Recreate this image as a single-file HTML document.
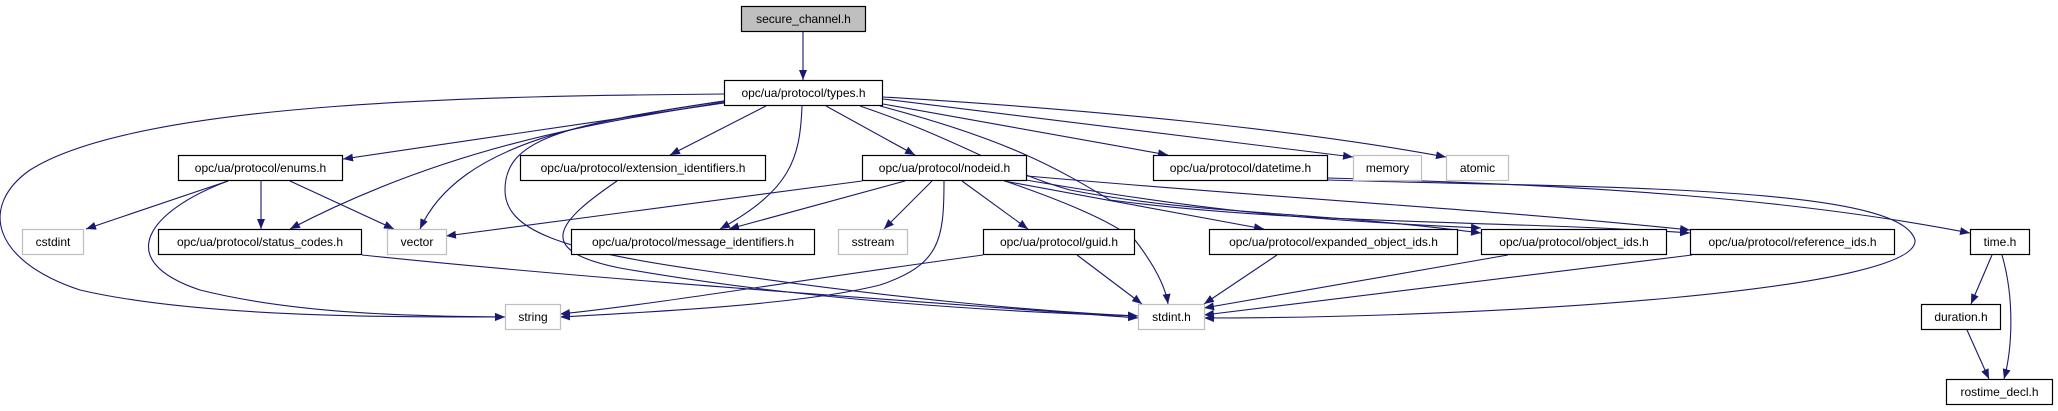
<!DOCTYPE html>
<html><head><meta charset="utf-8"><style>
html,body{margin:0;padding:0;background:#fff;width:2058px;height:411px;overflow:hidden}
svg text{font-family:"Liberation Sans",sans-serif;font-size:12px;fill:#000}
</style></head><body>
<svg width="2058" height="411" viewBox="0 0 2058 411" xmlns="http://www.w3.org/2000/svg">
<defs>
<marker id="a" viewBox="0 0 10 8" refX="10" refY="4" markerWidth="10" markerHeight="8" markerUnits="userSpaceOnUse" orient="auto">
<path d="M0,0 L10,4 L0,8 z" fill="#191970"/>
</marker>
</defs>
<g fill="none" stroke="#191970" stroke-width="1.1" marker-end="url(#a)">
<path d="M803,32 L803,80"/>
<path d="M724,94 C500,96 140,100 30,170 C-20,205 -10,260 80,290 C200,318 400,317 505,317"/>
<path d="M724,103 L343,159"/>
<path d="M724,102 C620,120 460,140 290,229"/>
<path d="M724,101 C600,120 460,140 420,229"/>
<path d="M724,101 C560,125 505,140 505,190 C505,230 560,250 700,270 C900,300 1050,312 1138,316"/>
<path d="M766,106 L670,155"/>
<path d="M802,106 C800,160 790,190 720,229"/>
<path d="M826,106 L915,155"/>
<path d="M860,106 C960,140 1000,170 1070,190 C1200,215 1300,210 1481,233"/>
<path d="M880,106 C1010,140 1060,170 1110,200 C1300,225 1500,220 1690,233"/>
<path d="M883,104 L1168,155"/>
<path d="M883,99 L1353,157"/>
<path d="M883,97 C1100,110 1300,130 1446,157"/>
<path d="M228,181 L86,229"/>
<path d="M261,181 L261,229"/>
<path d="M290,181 L394,229"/>
<path d="M228,181 C150,210 110,260 200,290 C300,315 420,316 505,317"/>
<path d="M617,181 C560,220 530,250 620,268 C800,300 1000,312 1138,316"/>
<path d="M362,255 C600,280 900,300 1138,318"/>
<path d="M862,181 L446,236"/>
<path d="M905,181 L729,229"/>
<path d="M932,181 L884,229"/>
<path d="M944,181 C944,240 940,265 880,285 C800,305 650,312 560,317"/>
<path d="M962,181 L1028,229"/>
<path d="M1005,181 C1060,200 1110,220 1135,240 C1158,270 1166,290 1168,304"/>
<path d="M1004,181 L1264,229"/>
<path d="M1020,179 C1200,210 1300,220 1481,228"/>
<path d="M1027,176 C1300,200 1500,210 1690,230"/>
<path d="M983,255 C800,280 650,305 560,314"/>
<path d="M1077,255 L1142,304"/>
<path d="M1277,255 L1204,304"/>
<path d="M1508,255 L1204,308"/>
<path d="M1692,255 L1204,315"/>
<path d="M1328,178 C1600,185 1800,200 1970,233"/>
<path d="M1328,180 C1600,188 1900,185 1915,240 C1920,290 1500,318 1204,318"/>
<path d="M1992,255 L1971,304"/>
<path d="M2002,255 C2015,300 2012,350 2004,379"/>
<path d="M1967,330 L1989,379"/>
</g>
<g stroke-width="1.2">
<rect x="741.5" y="6.5" width="124" height="25" fill="#bfbfbf" stroke="#000"/>
<g fill="#fff" stroke="#000">
<rect x="724.5" y="80.5" width="158" height="25"/>
<rect x="178.5" y="155.5" width="164" height="25"/>
<rect x="520.5" y="155.5" width="245" height="25"/>
<rect x="862.5" y="155.5" width="164" height="25"/>
<rect x="1153.5" y="155.5" width="174" height="25"/>
<rect x="158.5" y="229.5" width="203" height="25"/>
<rect x="571.5" y="229.5" width="243" height="25"/>
<rect x="983.5" y="229.5" width="151" height="25"/>
<rect x="1209.5" y="229.5" width="248" height="25"/>
<rect x="1481.5" y="229.5" width="185" height="25"/>
<rect x="1690.5" y="229.5" width="204" height="25"/>
<rect x="1970.5" y="229.5" width="59" height="25"/>
<rect x="1921.5" y="304.5" width="79" height="25"/>
<rect x="1946.5" y="379.5" width="106" height="25"/>
</g>
<g fill="#fff" stroke="#bfbfbf">
<rect x="1353.5" y="155.5" width="68" height="25"/>
<rect x="1446.5" y="155.5" width="62" height="25"/>
<rect x="22.5" y="229.5" width="61" height="25"/>
<rect x="387.5" y="229.5" width="59" height="25"/>
<rect x="838.5" y="229.5" width="69" height="25"/>
<rect x="505.5" y="304.5" width="55" height="25"/>
<rect x="1138.5" y="304.5" width="66" height="25"/>
</g>
</g>
<g text-anchor="middle">
<text x="803.5" y="23">secure_channel.h</text>
<text x="803.5" y="97">opc/ua/protocol/types.h</text>
<text x="260.5" y="172">opc/ua/protocol/enums.h</text>
<text x="643" y="172">opc/ua/protocol/extension_identifiers.h</text>
<text x="944.5" y="172">opc/ua/protocol/nodeid.h</text>
<text x="1240.5" y="172">opc/ua/protocol/datetime.h</text>
<text x="1387.5" y="172">memory</text>
<text x="1477.5" y="172">atomic</text>
<text x="53" y="246">cstdint</text>
<text x="260" y="246">opc/ua/protocol/status_codes.h</text>
<text x="417" y="246">vector</text>
<text x="693" y="246">opc/ua/protocol/message_identifiers.h</text>
<text x="873" y="246">sstream</text>
<text x="1059" y="246">opc/ua/protocol/guid.h</text>
<text x="1333.5" y="246">opc/ua/protocol/expanded_object_ids.h</text>
<text x="1574" y="246">opc/ua/protocol/object_ids.h</text>
<text x="1792.5" y="246">opc/ua/protocol/reference_ids.h</text>
<text x="2000" y="246">time.h</text>
<text x="533" y="321">string</text>
<text x="1171.5" y="321">stdint.h</text>
<text x="1961" y="321">duration.h</text>
<text x="1999.5" y="396">rostime_decl.h</text>
</g>
</svg>
</body></html>
